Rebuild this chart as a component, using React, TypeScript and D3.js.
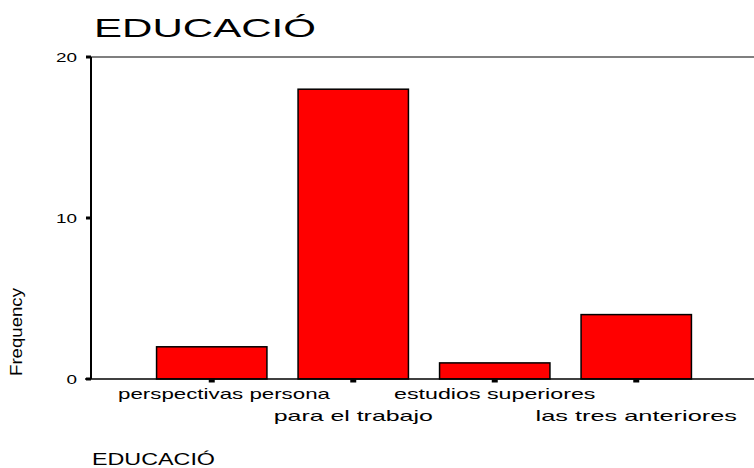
import React from "react";
import * as d3 from "d3";

const categories = ["perspectivas persona", "para el trabajo", "estudios superiores", "las tres anteriores"];
const frequencies = [2, 18, 1, 4];
const yTicks = [0, 10, 20];

export default function App() {
  const W = 754, H = 468;
  const axisX = 91;
  const y = d3.scaleLinear().domain([0, 20]).range([379, 57]);
  const x = d3.scaleBand().domain(categories).range([141, 707]).paddingInner(0.22).paddingOuter(0.11);
  const font = "'Liberation Sans', Arial, sans-serif";
  const labelLen = (s: string) => s.length * 10.6;
  return (
    <svg width={W} height={H} style={{ position: "absolute", left: 0, top: 0 }}>
      <rect width={W} height={H} fill="#fff" />
      <text x={94} y={37} fontFamily={font} fontSize={26} fill="#000" textLength={222} lengthAdjust="spacingAndGlyphs">EDUCACIÓ</text>
      <line x1={axisX} x2={W} y1={y(20)} y2={y(20)} stroke="#000" strokeWidth={1.2} />
      {categories.map((c, i) => (
        <rect key={c} x={x(c)} y={y(frequencies[i])} width={x.bandwidth()} height={y(0) - y(frequencies[i])}
          fill="#ff0000" stroke="#000" strokeWidth={1.5} />
      ))}
      <line x1={axisX} x2={axisX} y1={y(20)} y2={y(0)} stroke="#000" strokeWidth={2} />
      <line x1={axisX - 6} x2={W} y1={y(0)} y2={y(0)} stroke="#000" strokeWidth={1.5} />
      {yTicks.map(t => (
        <g key={t}>
          <line x1={axisX - 5} x2={axisX} y1={y(t)} y2={y(t)} stroke="#000" strokeWidth={3} />
          <text x={77} y={y(t) + 4.5} textAnchor="end" fontFamily={font} fontSize={12.5} fill="#000"
            textLength={String(t).length * 10.5} lengthAdjust="spacingAndGlyphs">{t}</text>
        </g>
      ))}
      {categories.map((c, i) => {
        const cx = (x(c) as number) + x.bandwidth() / 2;
        const len = labelLen(c);
        const lx = Math.max(cx - len / 2, 118);
        return (
          <g key={c}>
            <line x1={cx - 3} x2={cx + 3} y1={y(0) + 2} y2={y(0) + 2} stroke="#000" strokeWidth={3} />
            <text x={lx} y={i % 2 === 0 ? 399 : 421} fontFamily={font} fontSize={15} fill="#000"
              textLength={len} lengthAdjust="spacingAndGlyphs">{c}</text>
          </g>
        );
      })}
      <text transform="translate(22,332) rotate(-90)" textAnchor="middle" fontFamily={font} fontSize={16}
        textLength={88} lengthAdjust="spacingAndGlyphs" fill="#000">Frequency</text>
      <text x={92} y={465} fontFamily={font} fontSize={17} fill="#000" textLength={123} lengthAdjust="spacingAndGlyphs">EDUCACIÓ</text>
    </svg>
  );
}
